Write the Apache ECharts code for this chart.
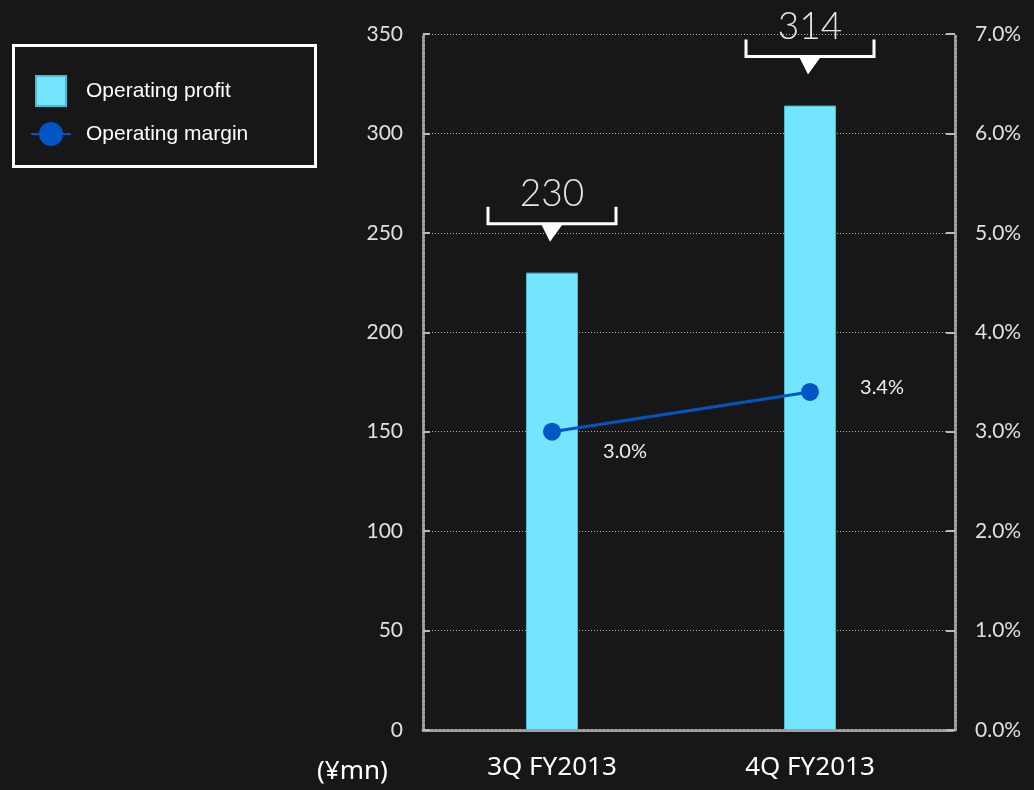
<!DOCTYPE html>
<html><head><meta charset="utf-8">
<style>html,body{margin:0;padding:0;background:#171717;}#c{width:1034px;height:790px;}</style>
<script src="https://cdn.jsdelivr.net/npm/echarts@6/dist/echarts.min.js"></script>
</head><body><div id="c"></div>
<script>
var categories = ['3Q FY2013', '4Q FY2013'];
var profitValues = [230, 314];
var marginValues = [3.0, 3.4];
var leftTicks = [0, 50, 100, 150, 200, 250, 300, 350];
var rightTicks = [0, 1, 2, 3, 4, 5, 6, 7];
var unitLabel = '(¥mn)';
var seriesNames = ['Operating profit', 'Operating margin'];

var labelOffsets = [[73, 20], [72, -4]];
var chart = echarts.init(document.getElementById('c'));
var idx = categories.map(function (c, i) { return i; });
var axisLineStyle = { color: '#a0a0a0', width: 3, type: [2, 2] };

chart.setOption({
  backgroundColor: '#171717',
  animation: false,
  grid: { left: 423, right: 79, top: 34, bottom: 60 },
  xAxis: {
    type: 'value', min: -0.5, max: 1.562,
    splitLine: { show: false },
    axisLine: { show: true, lineStyle: axisLineStyle },
    axisTick: { show: false },
    axisLabel: {
      customValues: idx, margin: 25, color: '#ffffff', fontSize: 26,
      fontFamily: 'Noto Sans',
      formatter: function (v) { return categories[Math.round(v)]; }
    }
  },
  yAxis: [{
    type: 'value', min: 0, max: 350, interval: 50, position: 'left',
    axisLine: { show: true, onZero: false, lineStyle: axisLineStyle },
    axisTick: { show: true, inside: true, length: 7, lineStyle: { color: '#bbbbbb', width: 2 } },
    splitLine: { show: true, lineStyle: { color: '#b0b0b0', width: 1, type: [1, 2] } },
    axisLabel: { color: '#e0e0e0', fontSize: 21, margin: 20, fontFamily: 'Lato',
      formatter: function (v) { return leftTicks.indexOf(v) >= 0 ? String(v) : ''; } }
  }, {
    type: 'value', min: 0, max: 7, interval: 1, position: 'right',
    axisLine: { show: true, onZero: false, lineStyle: axisLineStyle },
    axisTick: { show: true, inside: true, length: 9, lineStyle: { color: '#bbbbbb', width: 2 } },
    splitLine: { show: false },
    axisLabel: { color: '#e0e0e0', fontSize: 21, margin: 20, fontFamily: 'Lato',
      formatter: function (v) { return rightTicks.indexOf(v) >= 0 ? v.toFixed(1) + '%' : ''; } }
  }],
  legend: {
    orient: 'vertical', left: 25, top: 70, itemWidth: 40, itemHeight: 30, itemGap: 15,
    textStyle: { color: '#ffffff', fontSize: 21, fontFamily: 'Liberation Sans', padding: [0, 0, 0, 10] },
    data: [
      { name: seriesNames[0], icon: 'path://M0,0H30V30H0Z' },
      { name: seriesNames[1] }
    ]
  },
  graphic: [
    { type: 'rect', left: 11, top: 43, shape: { width: 302, height: 121 },
      style: { fill: 'none', stroke: '#ffffff', lineWidth: 3 }, z: 10 },
    { type: 'text', left: 317, top: 759, style: { text: unitLabel, fill: '#ffffff', fontSize: 26, fontFamily: 'Noto Sans' } }
  ],
  series: [{
    name: seriesNames[0], type: 'bar', barWidth: 52,
    itemStyle: { color: '#74E5FF', borderColor: '#4fb9d0', borderWidth: 1 },
    data: profitValues.map(function (v, i) { return [i, v]; }),
    z: 2
  }, {
    name: 'brackets', type: 'custom', z: 5,
    data: profitValues.map(function (v, i) { return [i, v]; }),
    renderItem: function (params, api) {
      var p = api.coord([api.value(0), api.value(1)]);
      var cx = p[0], top = p[1];
      var by = top - 49, hw = 64;
      return { type: 'group', children: [
        { type: 'polyline', shape: { points: [[cx - hw, by - 17], [cx - hw, by], [cx + hw, by], [cx + hw, by - 17]] },
          style: { stroke: '#ffffff', lineWidth: 3, fill: null } },
        { type: 'polygon', shape: { points: [[cx - 11, by], [cx + 11, by], [cx - 2, top - 31]] },
          style: { fill: '#ffffff' } },
        { type: 'text', style: { text: String(api.value(1)), x: cx, y: top - 79, align: 'center', verticalAlign: 'middle',
          fill: '#e6e6e6', fontSize: 37, fontFamily: 'Lato', fontWeight: 300 } }
      ] };
    }
  }, {
    name: seriesNames[1], type: 'line', yAxisIndex: 1, symbol: 'circle', symbolSize: 18,
    lineStyle: { color: '#0055C6', width: 3 },
    itemStyle: { color: '#0055C6' },
    label: { show: true, position: 'inside', color: '#eeeeee', fontSize: 20, fontFamily: 'Lato',
      formatter: function (p) { return p.value[1].toFixed(1) + '%'; } },
    data: marginValues.map(function (v, i) { return { value: [i, v], label: { offset: labelOffsets[i] } }; }),
    z: 6
  }]
});
</script></body></html>
